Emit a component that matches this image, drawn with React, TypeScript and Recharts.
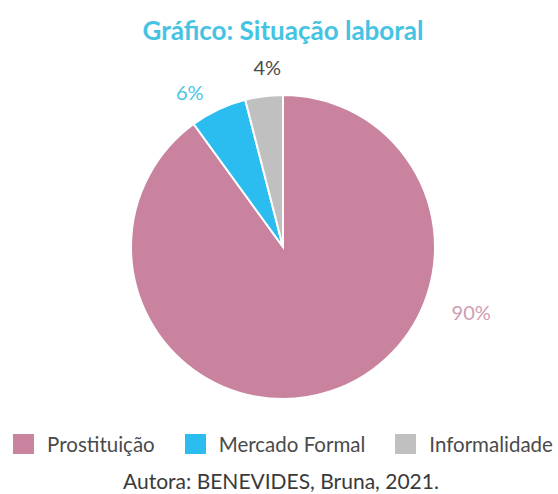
import React from "react";
import { Cell, Pie, PieChart } from "recharts";

const categories = ["Prostituição", "Mercado Formal", "Informalidade"];
const values = [90, 6, 4];
const colors = ["#c9839f", "#2bbdf0", "#c0c0c0"];
const labelColors = ["#cf9db2", "#4cc4e6", "#4a4a4a"];

// where each percentage label sits (degrees, radius offset beyond the pie)
const labelAngles = [-19, 121, 95];
const labelOffsets = [47, 29, 29];

const data = categories.map((name, i) => ({ name, value: values[i] }));

const RAD = Math.PI / 180;

function renderLabel(props: any) {
  const { cx, cy, outerRadius, index, value } = props;
  const angle = labelAngles[index];
  const r = outerRadius + labelOffsets[index];
  const x = cx + r * Math.cos(-angle * RAD);
  const y = cy + r * Math.sin(-angle * RAD);
  return (
    <text
      x={x}
      y={y}
      fill={labelColors[index]}
      textAnchor="middle"
      dominantBaseline="central"
      fontSize={20}
      fontFamily="Lato"
    >
      {`${value}%`}
    </text>
  );
}

export default function App() {
  return (
    <div
      style={{
        position: "absolute",
        left: 0,
        top: 0,
        width: 558,
        height: 494,
        background: "#fff",
        fontFamily: "Lato",
      }}
    >
      <div
        style={{
          position: "absolute",
          top: 14,
          left: 0,
          width: 566,
          textAlign: "center",
          fontSize: 26,
          fontWeight: 700,
          color: "#45c3e3",
        }}
      >
        Gráfico: Situação laboral
      </div>
      <PieChart width={558} height={494} margin={{ top: 0, right: 0, bottom: 0, left: 0 }}>
        <Pie
          data={data}
          dataKey="value"
          nameKey="name"
          cx={283}
          cy={247}
          outerRadius={152}
          startAngle={90}
          endAngle={-270}
          stroke="#fff"
          strokeWidth={2}
          label={renderLabel}
          labelLine={false}
          isAnimationActive={false}
        >
          {data.map((d, i) => (
            <Cell key={d.name} fill={colors[i]} />
          ))}
        </Pie>
      </PieChart>
      <div
        style={{
          position: "absolute",
          top: 433,
          left: 0,
          width: 566,
          display: "flex",
          justifyContent: "center",
          gap: 30,
          fontSize: 20.5,
          color: "#4a4a4a",
        }}
      >
        {categories.map((c, i) => (
          <div key={c} style={{ display: "flex", alignItems: "center", height: 22 }}>
            <span
              style={{
                width: 21,
                height: 20,
                background: colors[i],
                marginRight: 13,
                display: "inline-block",
              }}
            />
            {c}
          </div>
        ))}
      </div>
      <div
        style={{
          position: "absolute",
          top: 468,
          left: 0,
          width: 562,
          textAlign: "center",
          fontSize: 21,
          color: "#3a3a3a",
        }}
      >
        Autora: BENEVIDES, Bruna, 2021.
      </div>
    </div>
  );
}
